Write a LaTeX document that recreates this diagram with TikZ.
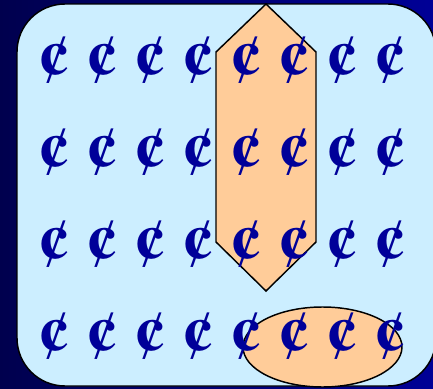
\documentclass[tikz,border=0pt]{standalone}
\usepackage{fontspec}
\newfontfamily\centfont{TeX Gyre Termes}
\usetikzlibrary{shapes.geometric}
\definecolor{bgL}{RGB}{0,0,78}
\definecolor{bgR}{RGB}{0,0,150}
\definecolor{panel}{RGB}{204,238,255}
\definecolor{orng}{RGB}{255,204,153}
\definecolor{cent}{RGB}{0,0,153}
\tikzset{
  shape outline/.style={draw=black, line width=1.1pt, fill=orng},
  centsign/.style={text=cent, inner sep=0pt, font=\centfont\bfseries\fontsize{48}{48}\selectfont}
}
\begin{document}
\begin{tikzpicture}[x=0.75pt,y=-0.75pt]
\useasboundingbox (0,0) rectangle (433,389);
\begin{scope}
\clip (0,0) rectangle (433,389);
\shade[left color=bgL, right color=bgR] (0,0) rectangle (433,389);
\draw[line width=1.1pt, fill=panel, rounded corners=36pt] (17,4) rectangle (436,386);
\end{scope}
\draw[shape outline] (266,4) -- (316,52) -- (316,242) -- (266,291) -- (216,242) -- (216,52) -- cycle;
\node[ellipse, shape outline, minimum width=159*0.75pt, minimum height=80*0.75pt, inner sep=0pt] (oval) at (322.5,347) {};
\foreach \y [count=\r] in {60,152,244,336.5}{
  \foreach \c in {1,...,8}{
    \node[centsign] (c\r\c) at ({54.5+48*(\c-1)},\y) {¢};
  }
}
\end{tikzpicture}
\end{document}
